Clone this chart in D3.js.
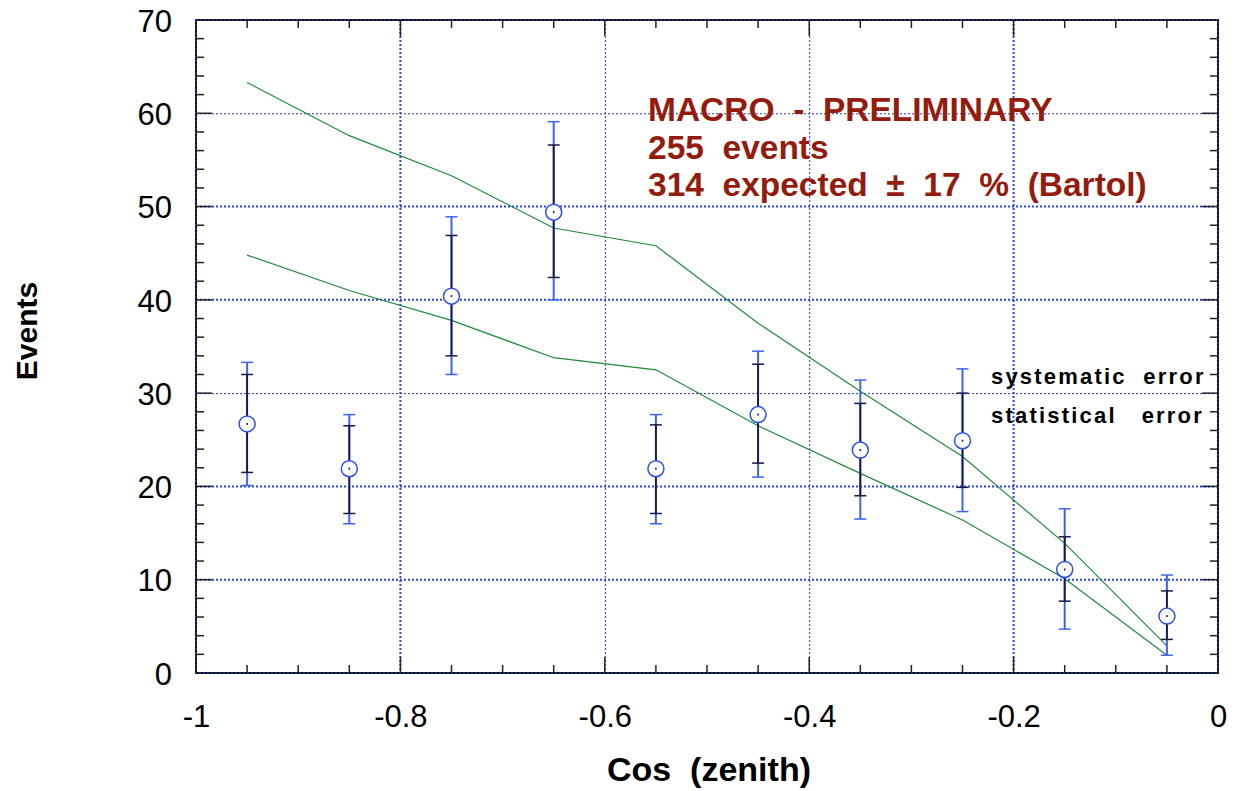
<!DOCTYPE html>
<html>
<head>
<meta charset="utf-8">
<script src="https://cdn.jsdelivr.net/npm/d3@7"></script>
<style>
  html, body { margin: 0; padding: 0; background: #fff; }
  svg { display: block; font-family: "Liberation Sans", Arial, Helvetica, sans-serif; }
  text { white-space: pre; }
</style>
</head>
<body>
<svg id="chart" width="1235" height="791"></svg>
<script>
// Zenith-angle distribution of upward-going muons, binned in cos(zenith)
const cosBins = [-0.95, -0.85, -0.75, -0.65, -0.55, -0.45, -0.35, -0.25, -0.15, -0.05];
const events = [26.7, 21.9, 40.4, 49.4, 21.9, 27.7, 23.9, 24.9, 11.1, 6.1];
const statHigh = [32.0, 26.5, 46.9, 56.6, 26.6, 33.1, 28.9, 30.0, 14.6, 8.8];
const statLow = [21.5, 17.1, 34.0, 42.4, 17.1, 22.5, 19.0, 19.9, 7.7, 3.6];
const sysHigh = [33.3, 27.7, 48.9, 59.1, 27.7, 34.5, 31.4, 32.6, 17.6, 10.5];
const sysLow = [20.1, 16.0, 32.0, 40.0, 16.0, 21.0, 16.5, 17.3, 4.7, 1.9];
// Expected (Bartol flux) band edges
const expectHigh = [63.3, 57.6, 53.3, 47.7, 45.8, 37.5, 30.2, 23.2, 13.9, 2.9];
const expectLow = [44.8, 41.0, 37.8, 33.8, 32.5, 26.5, 21.4, 16.4, 10.1, 1.9];

const xTicks = [-1, -0.8, -0.6, -0.4, -0.2, 0];
const xTickLabels = ["-1", "-0.8", "-0.6", "-0.4", "-0.2", "0"];
const yTicks = [0, 10, 20, 30, 40, 50, 60, 70];
const gridBoldX = [-0.8, -0.2];
const gridThinX = [-0.6, -0.4];
const gridBoldY = [10, 20, 40, 50];
const gridThinY = [30, 60];
const annotation = ["MACRO  -  PRELIMINARY", "255  events", "314  expected  \u00b1  17  %  (Bartol)"];
const legendLines = ["systematic  error", "statistical   error"];

(function draw() {
const svg = d3.select("#chart");
const pLeft = 196, pRight = 1218, pTop = 20, pBottom = 673;
const x = d3.scaleLinear().domain([-1, 0]).range([pLeft, pRight]);
const y = d3.scaleLinear().domain([0, 70]).range([pBottom, pTop]);

const gridBlue = "#2a45e0";
const redText = "#931c0e";

// grid lines
const grid = svg.append("g");
grid.selectAll(".gbx").data(gridBoldX).join("line")
  .attr("x1", d => x(d)).attr("x2", d => x(d)).attr("y1", pTop).attr("y2", pBottom)
  .attr("stroke", gridBlue).attr("stroke-width", 2).attr("stroke-dasharray", "2,2");
grid.selectAll(".gtx").data(gridThinX).join("line")
  .attr("x1", d => x(d) + 0.5).attr("x2", d => x(d) + 0.5).attr("y1", pTop).attr("y2", pBottom)
  .attr("stroke", "#2838b0").attr("stroke-width", 1).attr("stroke-dasharray", "2,2");
grid.selectAll(".gby").data(gridBoldY).join("line")
  .attr("y1", d => y(d)).attr("y2", d => y(d)).attr("x1", pLeft).attr("x2", pRight)
  .attr("stroke", gridBlue).attr("stroke-width", 2).attr("stroke-dasharray", "2,2");
grid.selectAll(".gty").data(gridThinY).join("line")
  .attr("y1", d => y(d) + 0.5).attr("y2", d => y(d) + 0.5).attr("x1", pLeft).attr("x2", pRight)
  .attr("stroke", "#2838b0").attr("stroke-width", 1).attr("stroke-dasharray", "2,2");

// inward ticks on all four sides
const xMinor = d3.range(-1, 0.0001, 0.05).map(v => +v.toFixed(2));
const yMinor = d3.range(0, 70.001, 2);
const tickLen = isMajor => isMajor ? 16 : 8;
const ticks = svg.append("g").attr("stroke", "#222").attr("stroke-width", 1.5);
xMinor.forEach(v => {
  const major = xTicks.some(t => Math.abs(t - v) < 1e-6);
  const L = tickLen(major);
  ticks.append("line").attr("x1", x(v)).attr("x2", x(v)).attr("y1", pBottom).attr("y2", pBottom - L);
  ticks.append("line").attr("x1", x(v)).attr("x2", x(v)).attr("y1", pTop).attr("y2", pTop + L);
});
yMinor.forEach(v => {
  const major = v % 10 === 0;
  const L = tickLen(major);
  ticks.append("line").attr("y1", y(v)).attr("y2", y(v)).attr("x1", pLeft).attr("x2", pLeft + L);
  ticks.append("line").attr("y1", y(v)).attr("y2", y(v)).attr("x1", pRight).attr("x2", pRight - L);
});

// frame
svg.append("rect").attr("x", pLeft).attr("y", pTop).attr("width", pRight - pLeft).attr("height", pBottom - pTop)
  .attr("fill", "none").attr("stroke", "#111").attr("stroke-width", 2);
svg.append("rect").attr("x", pLeft).attr("y", pTop).attr("width", pRight - pLeft).attr("height", pBottom - pTop)
  .attr("fill", "none").attr("stroke", gridBlue).attr("stroke-width", 1).attr("stroke-dasharray", "2,2");

// tick labels via d3 axes
const xAxis = d3.axisBottom(x).tickValues(xTicks).tickFormat((d, i) => xTickLabels[i]).tickSize(0).tickPadding(0);
svg.append("g").attr("transform", `translate(0,${pBottom})`).call(xAxis)
  .call(g => g.select(".domain").remove())
  .selectAll("text").attr("dy", null).attr("y", 54).attr("font-size", 31)
  .attr("font-family", "Liberation Sans, Arial, sans-serif").attr("fill", "#000");
const yAxis = d3.axisLeft(y).tickValues(yTicks).tickSize(0).tickPadding(0);
svg.append("g").attr("transform", `translate(${pLeft},0)`).call(yAxis)
  .call(g => g.select(".domain").remove())
  .selectAll("text").attr("x", -24).attr("dy", "0.36em").attr("font-size", 31)
  .attr("font-family", "Liberation Sans, Arial, sans-serif").attr("fill", "#000");

// expectation curves
const line = d3.line().x((d, i) => x(cosBins[i])).y(d => y(d));
[expectHigh, expectLow].forEach(series => {
  svg.append("path").datum(series).attr("d", line)
    .attr("fill", "none").attr("stroke", "#1f8a3a").attr("stroke-width", 1.2);
});

// error bars: systematic (blue) behind statistical (dark)
const pts = cosBins.map((c, i) => ({ c, v: events[i], sh: sysHigh[i], sl: sysLow[i], th: statHigh[i], tl: statLow[i] }));
const bars = svg.append("g");
const cap = 6;
pts.forEach(p => {
  const cx = x(p.c);
  bars.append("line").attr("x1", cx).attr("x2", cx).attr("y1", y(p.sh)).attr("y2", y(p.sl))
    .attr("stroke", "#3f63f0").attr("stroke-width", 2);
  [p.sh, p.sl].forEach(v => bars.append("line").attr("x1", cx - cap).attr("x2", cx + cap)
    .attr("y1", y(v)).attr("y2", y(v)).attr("stroke", "#3f63f0").attr("stroke-width", 1.5));
  bars.append("line").attr("x1", cx).attr("x2", cx).attr("y1", y(p.th)).attr("y2", y(p.tl))
    .attr("stroke", "#161a44").attr("stroke-width", 1.8);
  [p.th, p.tl].forEach(v => bars.append("line").attr("x1", cx - cap).attr("x2", cx + cap)
    .attr("y1", y(v)).attr("y2", y(v)).attr("stroke", "#161a44").attr("stroke-width", 1.5));
});
svg.append("g").selectAll("circle").data(pts).join("circle")
  .attr("cx", d => x(d.c)).attr("cy", d => y(d.v)).attr("r", 8)
  .attr("fill", "#fff").attr("stroke", "#2d4ff0").attr("stroke-width", 1.5);
svg.append("g").selectAll("rect").data(pts).join("rect")
  .attr("x", d => x(d.c) - 0.75).attr("y", d => y(d.v) - 1).attr("width", 1.5).attr("height", 2).attr("fill", "#161a44");

// annotation
svg.append("g").selectAll("text").data(annotation).join("text")
  .attr("x", 648).attr("y", (d, i) => 121 + i * 37.5)
  .attr("font-size", 33.5).attr("font-weight", "bold").attr("fill", redText).text(d => d);

svg.append("g").selectAll("text").data(legendLines).join("text")
  .attr("x", 991).attr("y", (d, i) => 384 + i * 39)
  .attr("font-size", 22).attr("font-weight", "bold").attr("letter-spacing", 2.2).attr("fill", "#000").text(d => d);

// axis titles
svg.append("text").attr("x", 709).attr("y", 781).attr("text-anchor", "middle")
  .attr("font-size", 34).attr("font-weight", "bold").text("Cos  (zenith)");
svg.append("text").attr("transform", "translate(37,331) rotate(-90)").attr("text-anchor", "middle")
  .attr("font-size", 30).attr("font-weight", "bold").text("Events");
})();
</script>
</body>
</html>
